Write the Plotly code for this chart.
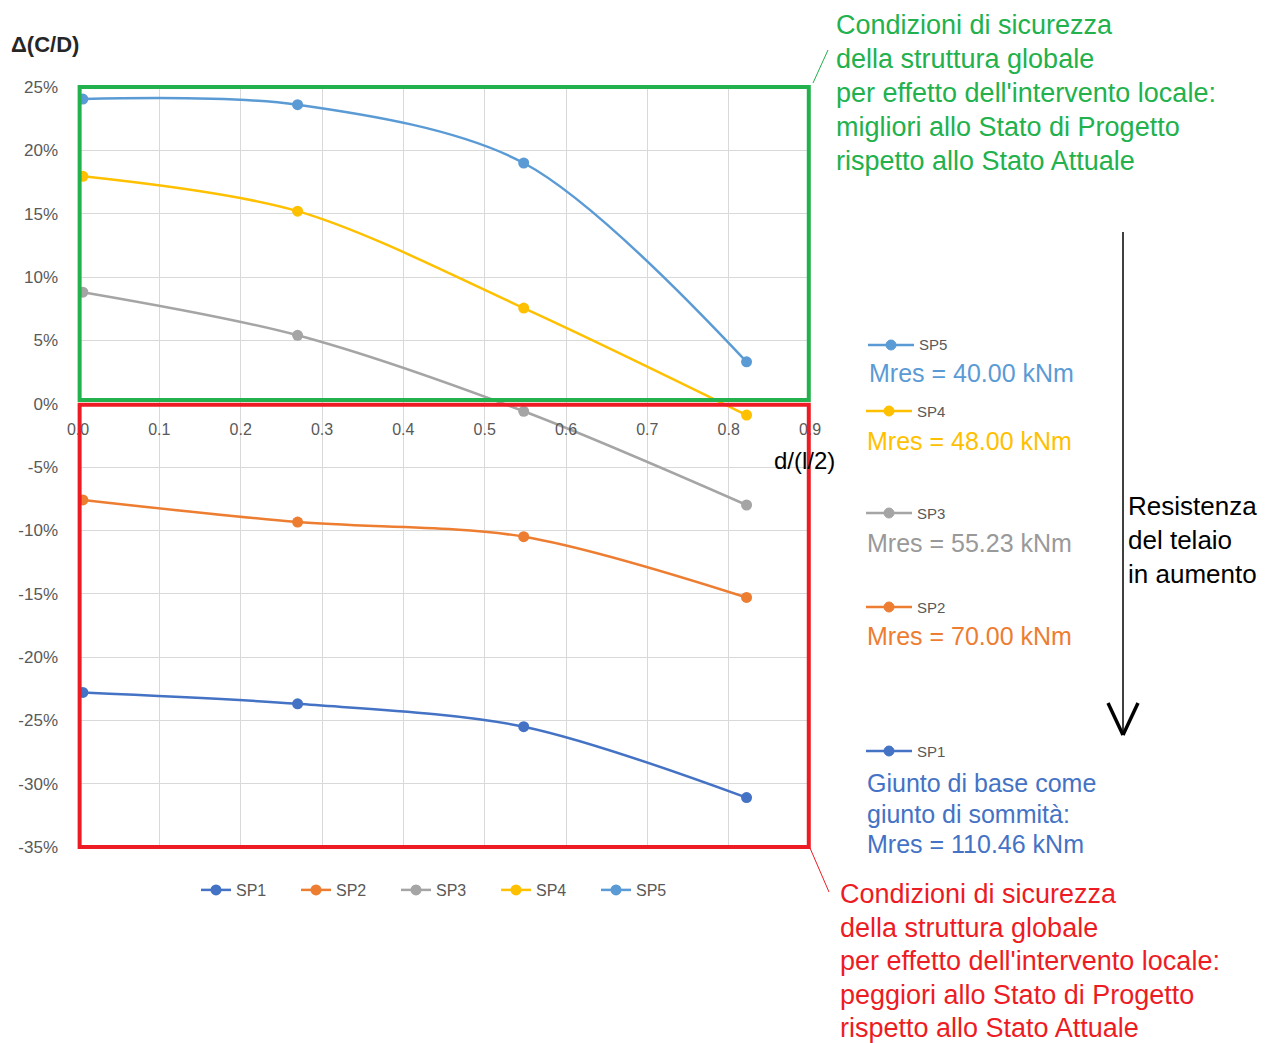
import plotly.graph_objects as go

# ---------------- data ----------------
x_vals = [0.006, 0.270, 0.548, 0.822]
series_names = ["SP1", "SP2", "SP3", "SP4", "SP5"]
sp1 = [-22.8, -23.7, -25.5, -31.1]
sp2 = [-7.6, -9.35, -10.5, -15.3]
sp3 = [8.8, 5.4, -0.6, -8.0]
sp4 = [17.95, 15.2, 7.55, -0.9]
sp5 = [24.05, 23.6, 19.0, 3.3]
colors = ["#4472C4", "#ED7D31", "#A5A5A5", "#FFC000", "#5B9BD5"]
x_ticks = [0.0, 0.1, 0.2, 0.3, 0.4, 0.5, 0.6, 0.7, 0.8, 0.9]
x_ticktext = ["0.0", "0.1", "0.2", "0.3", "0.4", "0.5", "0.6", "0.7", "0.8", "0.9"]
y_ticks = [25, 20, 15, 10, 5, 0, -5, -10, -15, -20, -25, -30, -35]
y_ticktext = ["25%", "20%", "15%", "10%", "5%", "0%", "-5%", "-10%", "-15%",
              "-20%", "-25%", "-30%", "-35%"]
mres_labels = {
    "SP5": ["Mres = 40.00 kNm"],
    "SP4": ["Mres = 48.00 kNm"],
    "SP3": ["Mres = 55.23 kNm"],
    "SP2": ["Mres = 70.00 kNm"],
    "SP1": ["Giunto di base come", "giunto di sommità:", "Mres = 110.46 kNm"],
}
green_text = ["Condizioni di sicurezza", "della struttura globale",
              "per effetto dell'intervento locale:",
              "migliori allo Stato di Progetto", "rispetto allo Stato Attuale"]
red_text = ["Condizioni di sicurezza", "della struttura globale",
            "per effetto dell'intervento locale:",
            "peggiori allo Stato di Progetto", "rispetto allo Stato Attuale"]
arrow_text = ["Resistenza", "del telaio", "in aumento"]

# ---------------- geometry helpers ----------------
OFF = 8  # page body margin
W, H = 1266 - OFF, 1043 - OFF
# plot area in reference-screen pixels
PX0, PX1, PY0, PY1 = 78, 810, 87, 847
L, T = PX0 - OFF, PY0 - OFF
R, B = W - (PX1 - OFF), H - (PY1 - OFF)
PW, PH = PX1 - PX0, PY1 - PY0
XR = [0, 0.9]
YR = [-35, 25]


def px(xp):
    return (xp - PX0) / PW


def py(yp):
    return (PY1 - yp) / PH


def dx(v):
    return (v - XR[0]) / (XR[1] - XR[0])


def dy(v):
    return (v - YR[0]) / (YR[1] - YR[0])


FONT = "Liberation Sans, Arial, sans-serif"
GREEN = "#22B14C"
RED = "#ED1C24"

fig = go.Figure()
data = [sp1, sp2, sp3, sp4, sp5]
for name, ys, c in zip(series_names, data, colors):
    fig.add_trace(go.Scatter(
        x=x_vals, y=ys, name=name, mode="lines+markers",
        line=dict(color=c, width=2.5, shape="spline", smoothing=0.9),
        marker=dict(color=c, size=11),
    ))

shapes = []
annotations = []

# green and red framing rectangles
shapes.append(dict(type="rect", xref="paper", yref="paper",
                   x0=dx(0.002), x1=dx(0.8985), y0=dy(0.28), y1=dy(25),
                   line=dict(color=GREEN, width=4), layer="above"))
shapes.append(dict(type="rect", xref="paper", yref="paper",
                   x0=dx(0.002), x1=dx(0.8985), y0=dy(-35), y1=dy(-0.08),
                   line=dict(color=RED, width=4), layer="above"))

# connector lines
shapes.append(dict(type="line", xref="paper", yref="paper",
                   x0=px(813), y0=py(83), x1=px(828), y1=py(50),
                   line=dict(color=GREEN, width=1)))
shapes.append(dict(type="line", xref="paper", yref="paper",
                   x0=px(810), y0=py(848), x1=px(829), y1=py(892),
                   line=dict(color=RED, width=1)))

# arrow
shapes.append(dict(type="line", xref="paper", yref="paper",
                   x0=px(1123), y0=py(232), x1=px(1123), y1=py(733),
                   line=dict(color="#000000", width=1.5)))
shapes.append(dict(type="line", xref="paper", yref="paper",
                   x0=px(1108), y0=py(703), x1=px(1123), y1=py(735),
                   line=dict(color="#000000", width=3.5)))
shapes.append(dict(type="line", xref="paper", yref="paper",
                   x0=px(1138), y0=py(703), x1=px(1123), y1=py(735),
                   line=dict(color="#000000", width=3.5)))


def text(x, y, s, color, size, bold=False, xanchor="left"):
    annotations.append(dict(
        xref="paper", yref="paper", x=px(x), y=py(y),
        text=("<b>%s</b>" % s) if bold else s,
        showarrow=False, xanchor=xanchor, yanchor="middle",
        font=dict(family=FONT, size=size, color=color)))


text(9, 45, "Δ(C/D)", "#262626", 22, bold=True)
text(772, 460, "d/(l/2)", "#000000", 24)

for i, s in enumerate(green_text):
    text(834, 25 + 34 * i, s, GREEN, 27)
for i, s in enumerate(red_text):
    text(838, 894 + 33.6 * i, s, RED, 27)
for i, s in enumerate(arrow_text):
    text(1126, 506 + 34 * i, s, "#000000", 26)

# side mini-legends
side = [
    ("SP5", colors[4], 868, 345, 373),
    ("SP4", colors[3], 866, 411, 441),
    ("SP3", colors[2], 866, 513, 543),
    ("SP2", colors[1], 866, 607, 636),
    ("SP1", colors[0], 866, 751, 783),
]
for name, c, x0, yl, yt in side:
    shapes.append(dict(type="line", xref="paper", yref="paper",
                       x0=px(x0), x1=px(x0 + 46), y0=py(yl), y1=py(yl),
                       line=dict(color=c, width=2.5)))
    shapes.append(dict(type="circle", xref="paper", yref="paper",
                       xsizemode="pixel", ysizemode="pixel",
                       xanchor=px(x0 + 23), yanchor=py(yl),
                       x0=-5, x1=5, y0=-5, y1=5,
                       fillcolor=c, line=dict(color=c, width=1)))
    text(x0 + 49, yl, name, "#595959", 15)
    lines = mres_labels[name]
    tcol = "#999999" if name == "SP3" else c
    for j, s in enumerate(lines):
        text(x0 - 1, yt + 30.5 * j, s, tcol, 25)

fig.update_layout(
    width=W, height=H,
    margin=dict(l=L, r=R, t=T, b=B, pad=0, autoexpand=False),
    paper_bgcolor="white", plot_bgcolor="white",
    font=dict(family=FONT, color="#595959"),
    showlegend=True,
    legend=dict(orientation="h", x=px(446), y=py(890), xanchor="center", yanchor="middle",
                font=dict(family=FONT, size=16, color="#595959"),
                entrywidth=55, entrywidthmode="pixels",
                tracegroupgap=0, bgcolor="rgba(0,0,0,0)"),
    shapes=shapes,
    annotations=annotations,
)
fig.update_xaxes(range=XR, tickvals=x_ticks, ticktext=x_ticktext,
                 showgrid=True, gridcolor="#D9D9D9", gridwidth=1,
                 zeroline=False, showline=False, ticks="",
                 anchor="free", position=dy(0), automargin=False,
                 ticklabelstandoff=14,
                 tickfont=dict(family=FONT, size=16, color="#595959"))
fig.update_yaxes(range=YR, tickvals=y_ticks, ticktext=y_ticktext,
                 showgrid=True, gridcolor="#D9D9D9", gridwidth=1,
                 zeroline=False, showline=False, ticks="", automargin=False,
                 ticklabelstandoff=19,
                 tickfont=dict(family=FONT, size=17, color="#595959"))

fig.write_html("out.html")
